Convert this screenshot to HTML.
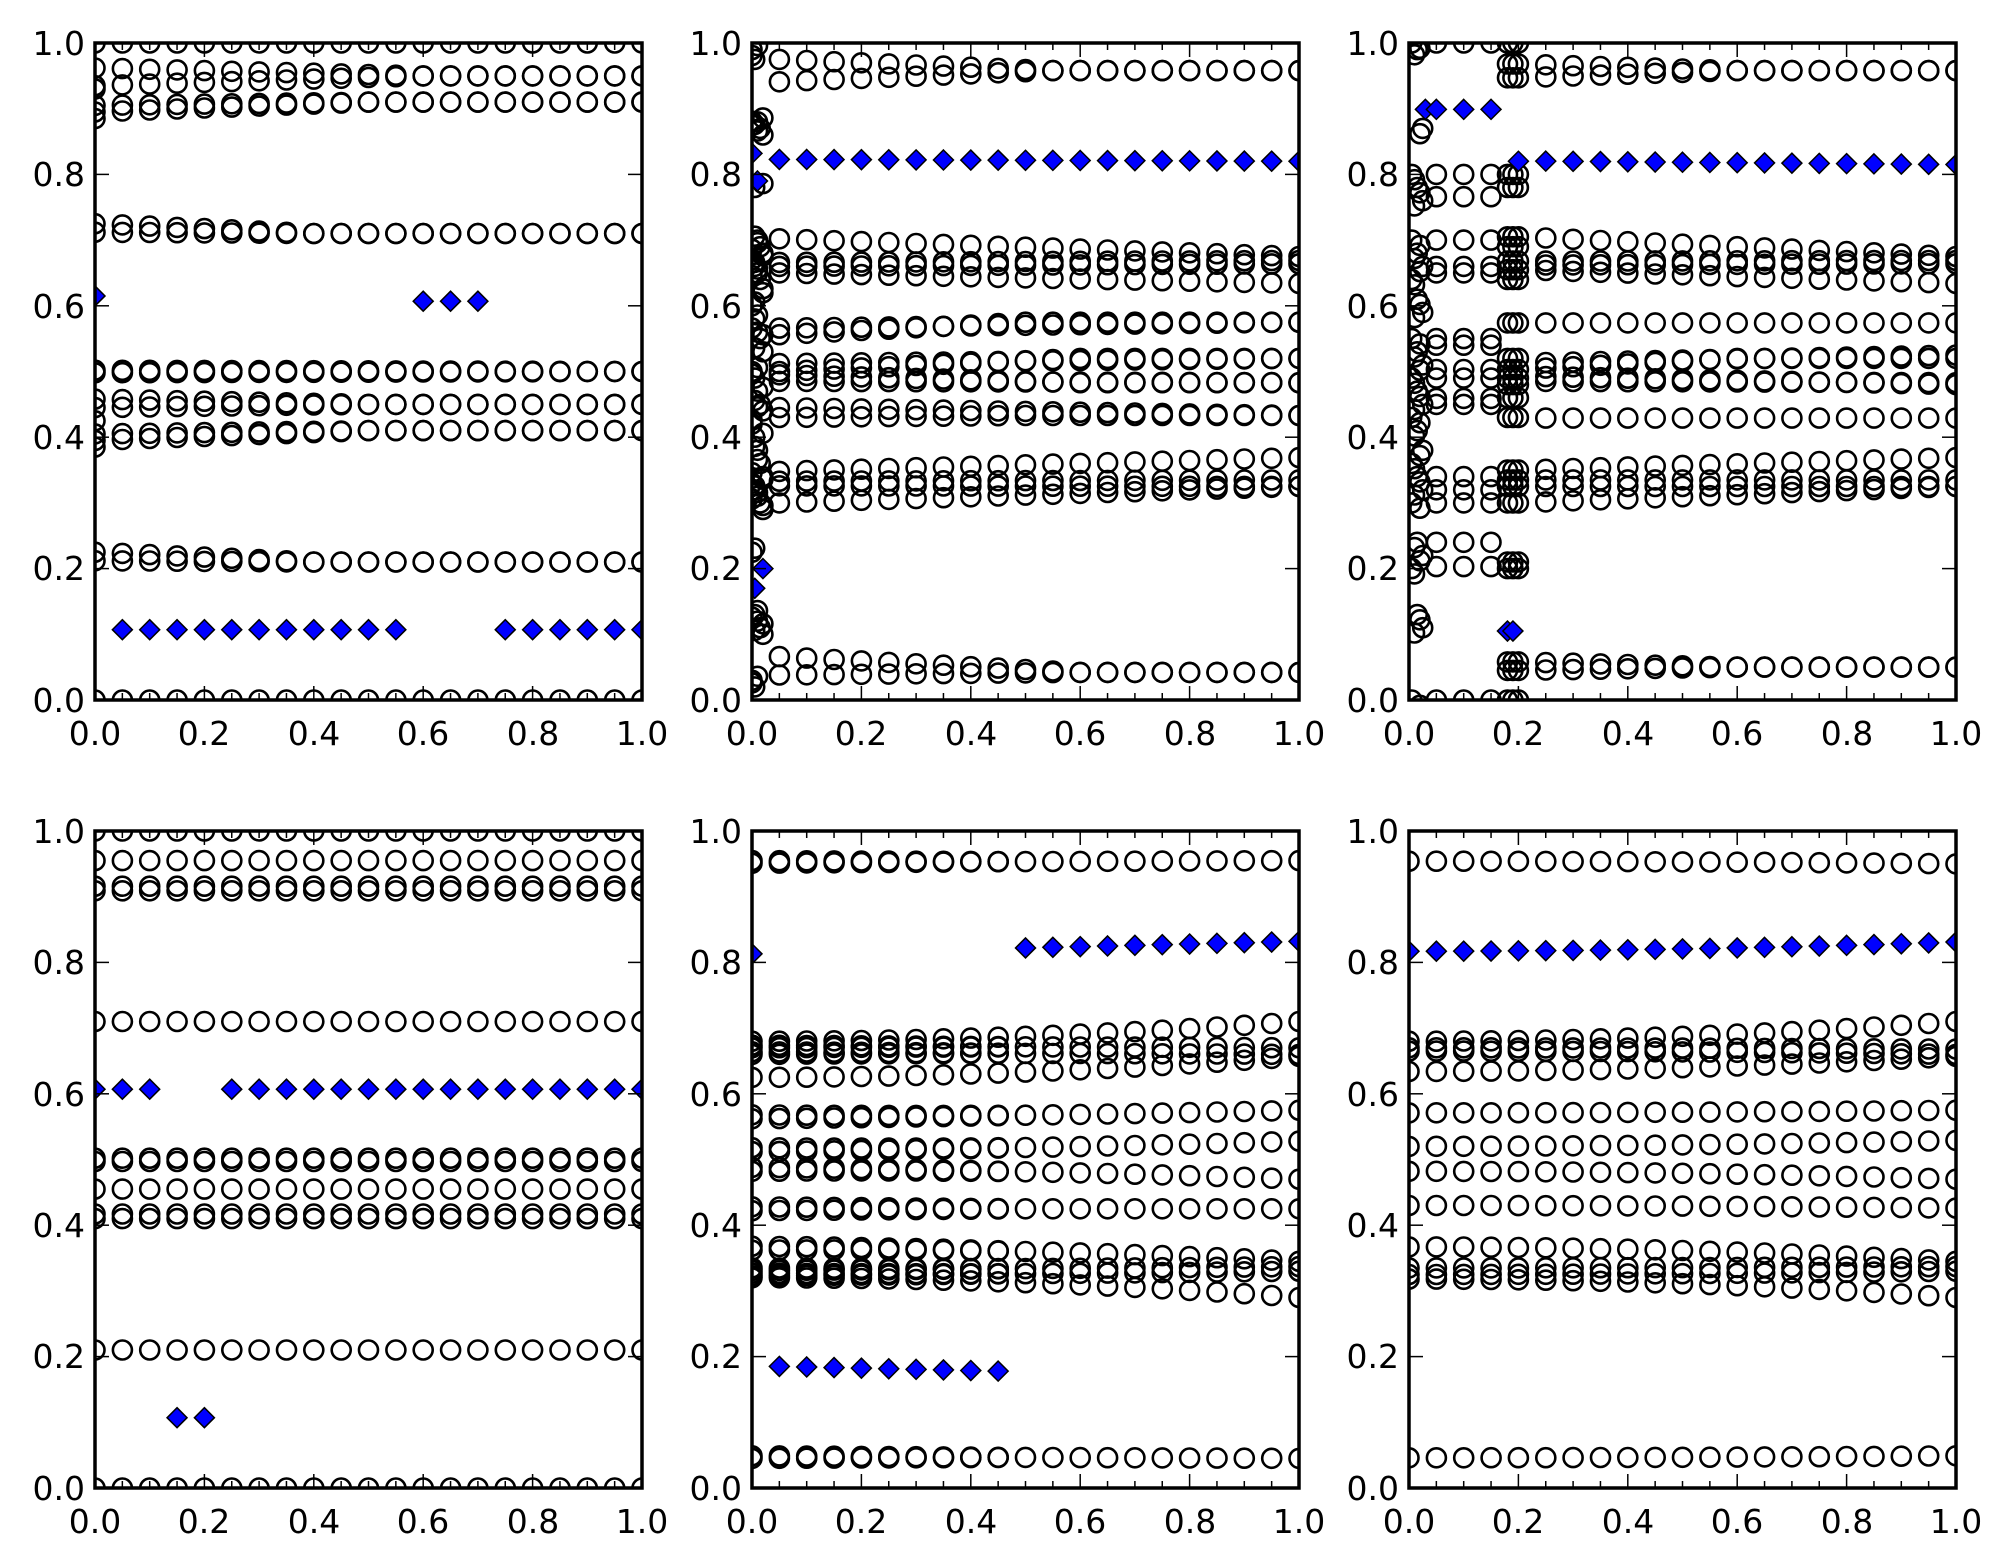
<!DOCTYPE html>
<html><head><meta charset="utf-8"><style>
html,body{margin:0;padding:0;background:#fff;}
svg{display:block;}
text{font-family:"DejaVu Sans","Liberation Sans",sans-serif;font-size:33px;fill:#000;}
.yl{text-anchor:end;}
.xl{text-anchor:middle;}
</style></head><body>
<svg id="s" width="2004" height="1565" viewBox="0 0 2004 1565" xmlns="http://www.w3.org/2000/svg">
<rect width="2004" height="1565" fill="#fff"/>
<defs><clipPath id="cp"><rect x="0" y="0" width="547" height="657"/></clipPath></defs>

<g id="p1" transform="translate(95,43)"><g class="d" clip-path="url(#cp)"></g><g class="ax"></g>
<text class="yl" x="-10" y="669">0.0</text><text class="yl" x="-10" y="537">0.2</text><text class="yl" x="-10" y="406">0.4</text><text class="yl" x="-10" y="275">0.6</text><text class="yl" x="-10" y="143">0.8</text><text class="yl" x="-10" y="12">1.0</text>
<text class="xl" x="0" y="702">0.0</text><text class="xl" x="109" y="702">0.2</text><text class="xl" x="219" y="702">0.4</text><text class="xl" x="328" y="702">0.6</text><text class="xl" x="438" y="702">0.8</text><text class="xl" x="547" y="702">1.0</text></g>

<g id="p2" transform="translate(752,43)"><g class="d" clip-path="url(#cp)"></g><g class="ax"></g>
<text class="yl" x="-10" y="669">0.0</text><text class="yl" x="-10" y="537">0.2</text><text class="yl" x="-10" y="406">0.4</text><text class="yl" x="-10" y="275">0.6</text><text class="yl" x="-10" y="143">0.8</text><text class="yl" x="-10" y="12">1.0</text>
<text class="xl" x="0" y="702">0.0</text><text class="xl" x="109" y="702">0.2</text><text class="xl" x="219" y="702">0.4</text><text class="xl" x="328" y="702">0.6</text><text class="xl" x="438" y="702">0.8</text><text class="xl" x="547" y="702">1.0</text></g>

<g id="p3" transform="translate(1409,43)"><g class="d" clip-path="url(#cp)"></g><g class="ax"></g>
<text class="yl" x="-10" y="669">0.0</text><text class="yl" x="-10" y="537">0.2</text><text class="yl" x="-10" y="406">0.4</text><text class="yl" x="-10" y="275">0.6</text><text class="yl" x="-10" y="143">0.8</text><text class="yl" x="-10" y="12">1.0</text>
<text class="xl" x="0" y="702">0.0</text><text class="xl" x="109" y="702">0.2</text><text class="xl" x="219" y="702">0.4</text><text class="xl" x="328" y="702">0.6</text><text class="xl" x="438" y="702">0.8</text><text class="xl" x="547" y="702">1.0</text></g>

<g id="p4" transform="translate(95,831)"><g class="d" clip-path="url(#cp)"></g><g class="ax"></g>
<text class="yl" x="-10" y="669">0.0</text><text class="yl" x="-10" y="537">0.2</text><text class="yl" x="-10" y="406">0.4</text><text class="yl" x="-10" y="275">0.6</text><text class="yl" x="-10" y="143">0.8</text><text class="yl" x="-10" y="12">1.0</text>
<text class="xl" x="0" y="702">0.0</text><text class="xl" x="109" y="702">0.2</text><text class="xl" x="219" y="702">0.4</text><text class="xl" x="328" y="702">0.6</text><text class="xl" x="438" y="702">0.8</text><text class="xl" x="547" y="702">1.0</text></g>

<g id="p5" transform="translate(752,831)"><g class="d" clip-path="url(#cp)"></g><g class="ax"></g>
<text class="yl" x="-10" y="669">0.0</text><text class="yl" x="-10" y="537">0.2</text><text class="yl" x="-10" y="406">0.4</text><text class="yl" x="-10" y="275">0.6</text><text class="yl" x="-10" y="143">0.8</text><text class="yl" x="-10" y="12">1.0</text>
<text class="xl" x="0" y="702">0.0</text><text class="xl" x="109" y="702">0.2</text><text class="xl" x="219" y="702">0.4</text><text class="xl" x="328" y="702">0.6</text><text class="xl" x="438" y="702">0.8</text><text class="xl" x="547" y="702">1.0</text></g>

<g id="p6" transform="translate(1409,831)"><g class="d" clip-path="url(#cp)"></g><g class="ax"></g>
<text class="yl" x="-10" y="669">0.0</text><text class="yl" x="-10" y="537">0.2</text><text class="yl" x="-10" y="406">0.4</text><text class="yl" x="-10" y="275">0.6</text><text class="yl" x="-10" y="143">0.8</text><text class="yl" x="-10" y="12">1.0</text>
<text class="xl" x="0" y="702">0.0</text><text class="xl" x="109" y="702">0.2</text><text class="xl" x="219" y="702">0.4</text><text class="xl" x="328" y="702">0.6</text><text class="xl" x="438" y="702">0.8</text><text class="xl" x="547" y="702">1.0</text></g>
</svg>
<script>
var NS="http://www.w3.org/2000/svg",W=547,H=657;
function el(p,t,a){var e=document.createElementNS(NS,t);for(var k in a)e.setAttribute(k,a[k]);p.appendChild(e);return e;}
function D(id){return document.querySelector('#'+id+' .d');}
function C(g,x,y){el(g,'circle',{cx:(x*W).toFixed(1),cy:((1-y)*H).toFixed(1),r:9.5,fill:'none',stroke:'#000','stroke-width':2.6});}
var dias=[];
function M(id,x,y){dias.push([id,x,y]);}
function drawD(){dias.forEach(function(d){var g=D(d[0]),px=d[1]*W,py=(1-d[2])*H,r=10;
el(g,'polygon',{points:(px)+','+(py-r)+' '+(px+r)+','+py+' '+px+','+(py+r)+' '+(px-r)+','+py,fill:'#0000ff',stroke:'#000','stroke-width':1.5});});}
var XS=[];for(var i=0;i<=20;i++)XS.push(i*0.05);
['p1','p2','p3','p4','p5','p6'].forEach(function(id){
 var g=document.querySelector('#'+id+' .ax');
 el(g,'rect',{x:0,y:0,width:W,height:H,fill:'none',stroke:'#000','stroke-width':3.5});
 for(var i=0;i<=5;i++){var y=H*i/5;el(g,'line',{x1:0,x2:14,y1:y,y2:y,stroke:'#000','stroke-width':1.5});el(g,'line',{x1:W,x2:W-14,y1:y,y2:y,stroke:'#000','stroke-width':1.5});}
 for(var i=0;i<=20;i++){var x=W*i/20,L=(i%4==0)?14:7;el(g,'line',{x1:x,x2:x,y1:0,y2:L,stroke:'#000','stroke-width':1.5});el(g,'line',{x1:x,x2:x,y1:H,y2:H-L,stroke:'#000','stroke-width':1.5});}
});
function lines(id,xs,x0,spec){var g=D(id);spec.forEach(function(s){xs.forEach(function(x){var t=Math.min(Math.max((x-x0)/(s[2]-x0),0),1);C(g,x,s[0]+(s[1]-s[0])*t);});});}
function quad(id,xs,spec){var g=D(id);spec.forEach(function(s){xs.forEach(function(x){var y=s[0]+(s[1]-s[0])*x*x;var sp=s[2]*Math.max(0,1-x/0.5);if(sp>0){C(g,x,y+sp);C(g,x,y-sp);}else C(g,x,y);});});}
lines('p1',XS,0,[[1,1,1],[0,0,1],[0.962,0.95,0.6],[0.935,0.95,0.6],[0.905,0.91,0.5],[0.895,0.91,0.5],[0.725,0.71,0.4],[0.712,0.71,0.4],[0.502,0.5,1],[0.498,0.5,1],[0.458,0.45,0.5],[0.445,0.45,0.5],[0.405,0.41,0.5],[0.395,0.41,0.5],[0.225,0.21,0.4],[0.212,0.21,0.4]]);
C(D('p1'),0,0.885);C(D('p1'),0,0.385);C(D('p1'),0,0.93);C(D('p1'),0,0.425);
M('p1',0,0.615);[0.6,0.65,0.7].forEach(function(x){M('p1',x,0.607);});
XS.forEach(function(x){if((x>0.01&&x<0.57)||x>0.73)M('p1',x,0.107);});
lines('p4',XS,0,[[1,1,1],[0,0,1],[0.955,0.955,1],[0.916,0.916,1],[0.909,0.909,1],[0.71,0.71,1],[0.502,0.502,1],[0.497,0.497,1],[0.455,0.455,1],[0.417,0.417,1],[0.41,0.41,1],[0.21,0.21,1]]);
XS.forEach(function(x){if(x<0.12||x>0.23)M('p4',x,0.607);});M('p4',0.15,0.107);M('p4',0.2,0.107);
var X2=XS.slice(1);
lines('p2',X2,0.05,[[0.975,0.958,0.55],[0.941,0.958,0.55],[0.702,0.675,1],[0.666,0.669,1],[0.660,0.664,1],[0.650,0.634,1],[0.566,0.575,1],[0.556,0.575,0.5],[0.512,0.52,1],[0.500,0.52,0.6],[0.495,0.483,0.6],[0.485,0.483,1],[0.445,0.433,1],[0.430,0.433,0.5],[0.348,0.369,1],[0.333,0.335,1],[0.326,0.325,1],[0.300,0.325,1],[0.066,0.042,0.6],[0.038,0.042,0.6]]);
var cl2=[0.99,0.975,0.88,0.87,0.86,0.875,0.78,0.7,0.69,0.68,0.67,0.66,0.65,0.64,0.62,0.6,0.58,0.56,0.55,0.53,0.5,0.49,0.47,0.45,0.44,0.42,0.40,0.38,0.36,0.34,0.33,0.32,0.31,0.3,0.29,0.225,0.13,0.12,0.11,0.1,0.03,0.02];
cl2.forEach(function(y,i){C(D('p2'),[0,0.005,0.01,0.015,0.02][i%5],y);C(D('p2'),[0.01,0.0,0.02,0.005][i%4],y+0.006);});
X2.forEach(function(x){M('p2',x,0.823-0.003*x);});M('p2',0,0.832);M('p2',0.01,0.79);M('p2',0.02,0.2);M('p2',0.005,0.17);
var X3=[];for(var i=5;i<=20;i++)X3.push(i*0.05);
lines('p3',X3,0.2,[[0.968,0.958,0.6],[0.947,0.958,0.6],[0.705,0.675,1],[0.668,0.669,1],[0.662,0.664,1],[0.655,0.634,1],[0.574,0.574,1],[0.513,0.525,1],[0.503,0.52,0.6],[0.493,0.48,1],[0.485,0.483,1],[0.429,0.429,1],[0.35,0.369,1],[0.335,0.335,1],[0.325,0.325,1],[0.30,0.325,1],[0.058,0.05,0.6],[0.045,0.05,0.6]]);
var cl3=[1.0,0.968,0.947,0.80,0.78,0.705,0.69,0.668,0.655,0.64,0.574,0.52,0.503,0.49,0.48,0.46,0.43,0.35,0.335,0.325,0.30,0.21,0.2,0.058,0.045,0.0];
[0.18,0.19,0.2].forEach(function(x){cl3.forEach(function(y){C(D('p3'),x,y);});});
var lf3=[1.0,0.80,0.766,0.70,0.66,0.65,0.55,0.54,0.503,0.49,0.459,0.45,0.34,0.32,0.30,0.24,0.203,0.0];
[0.05,0.1,0.15].forEach(function(x){lf3.forEach(function(y){C(D('p3'),x,y);});});
var cc3=[1.0,0.99,0.87,0.80,0.78,0.76,0.70,0.68,0.66,0.64,0.61,0.59,0.55,0.53,0.51,0.49,0.47,0.45,0.43,0.41,0.38,0.36,0.34,0.32,0.3,0.24,0.22,0.2,0.13,0.11,0.0];
cc3.forEach(function(y,i){C(D('p3'),[0.005,0.015,0.025][i%3],y);C(D('p3'),[0.02,0.01][i%2],y-0.008);});
[0.03,0.05,0.1,0.15].forEach(function(x){M('p3',x,0.899);});X3.forEach(function(x){M('p3',x,0.822-0.007*x);});M('p3',0.2,0.82);M('p3',0.18,0.105);M('p3',0.19,0.105);
quad('p5',XS,[[0.953,0.955,0.002],[0.68,0.71,0],[0.672,0.67,0.002],[0.662,0.66,0.002],[0.625,0.657,0],[0.565,0.575,0.003],[0.515,0.528,0.003],[0.485,0.47,0.003],[0.425,0.425,0.003],[0.365,0.345,0.003],[0.333,0.337,0.002],[0.325,0.33,0.002],[0.32,0.29,0],[0.047,0.045,0.002]]);
M('p5',0,0.813);XS.forEach(function(x){if(x>0.01&&x<0.47)M('p5',x,0.186-0.018*x);if(x>0.47)M('p5',x,0.822+0.01*(x-0.5)/0.5);});
quad('p6',XS,[[0.954,0.95,0],[0.68,0.71,0],[0.67,0.668,0],[0.665,0.66,0],[0.634,0.657,0],[0.571,0.575,0],[0.52,0.529,0],[0.482,0.47,0],[0.43,0.426,0],[0.367,0.345,0],[0.335,0.337,0],[0.325,0.33,0],[0.318,0.29,0],[0.046,0.049,0]]);
XS.forEach(function(x){M('p6',x,0.817+0.014*x*x);});
drawD();
</script>
</body></html>
